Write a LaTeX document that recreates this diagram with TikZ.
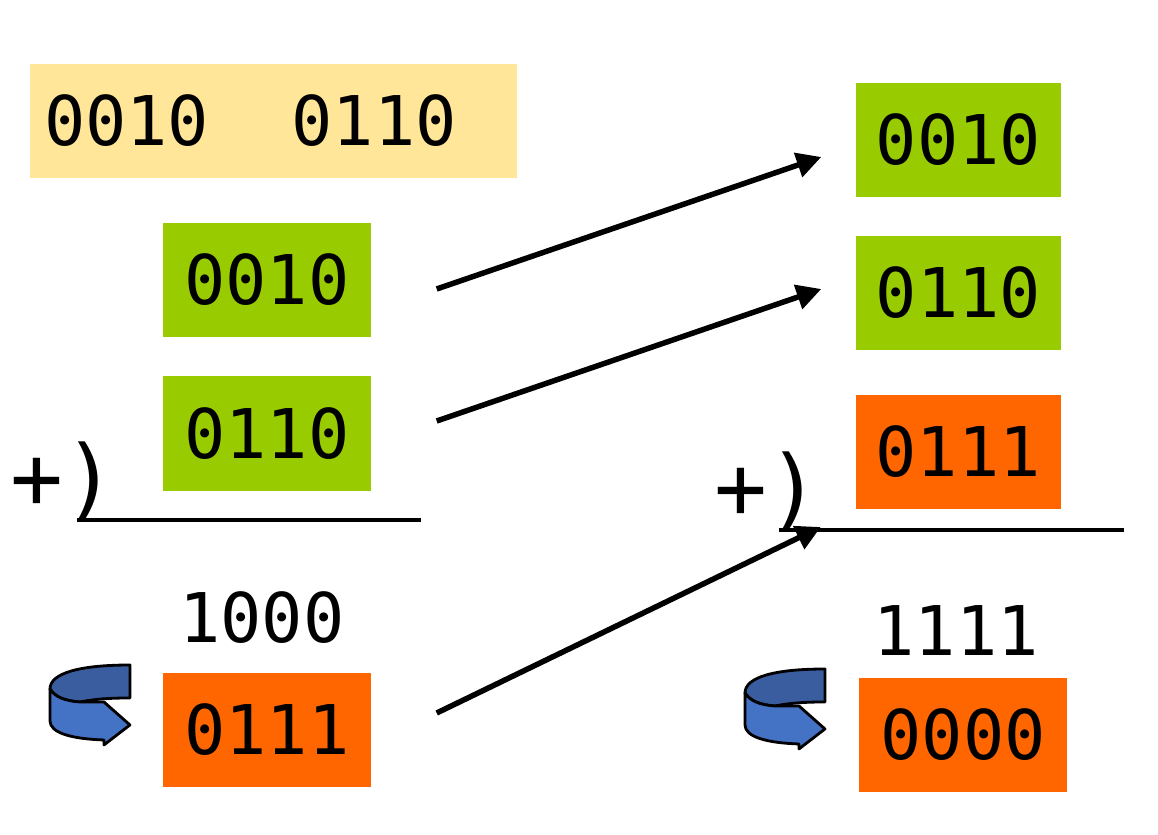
\documentclass[tikz,border=0pt]{standalone}
\usepackage{fontspec}
\setmonofont{DejaVu Sans Mono}
\usepackage{tikz}
\usepackage{xcolor}
\usetikzlibrary{arrows.meta}
\usetikzlibrary{positioning}

\definecolor{bitgreen}{HTML}{99CC00}
\definecolor{bitorange}{HTML}{FF6600}
\definecolor{bityellow}{HTML}{FFE699}
\definecolor{turnfront}{HTML}{4472C4}
\definecolor{turnback}{HTML}{3A5DA0}

\tikzset{
	word/.style={minimum width=2.08cm, minimum height=1.14cm, inner sep=0pt, font=\ttfamily\fontsize{19.5}{23}\selectfont},
	plain/.style={inner sep=0pt, font=\ttfamily\fontsize{19.5}{23}\selectfont},
	plus/.style={inner sep=0pt, anchor=base west, font=\ttfamily\fontsize{25}{30}\selectfont},
	turnarrow/.pic={
		\begin{scope}[x=0.01cm, y=-0.01cm, line width=0.8pt, line join=round]
		\filldraw[fill=turnback] (80,0) .. controls (30,0) and (0,8) .. (0,24) .. controls (5,32) and (15,36) .. (30,37) .. controls (45,34) and (60,33) .. (80,33) -- cycle;
		\filldraw[fill=turnfront] (0,24) .. controls (5,32) and (15,36) .. (30,37) -- (54,37) -- (80,60) -- (54,80) -- (54,75) .. controls (22,74) and (0,68) .. (0,56) -- cycle;
		\end{scope}
	}
}

\begin{document}
\begin{tikzpicture}
				\useasboundingbox (0,0) rectangle (11.58,8.34);
				\node[word, fill=bityellow, minimum width=4.87cm, text width=4.59cm, align=left] (pair) at (2.735, 7.13) {0010\phantom{00}0110};
				\node[word, fill=bitgreen] (a1) at (2.67, 5.54) {0010};
				\node[word, fill=bitgreen] (a2) at (2.67, 4.005) {0110};
				\node[plus] (aplus) at (0.10, 3.26) {+)};
				\node[plain] (asum) at (2.62, 2.16) {1000};
				\node[word, fill=bitorange] (acarry) at (2.67, 1.04) {0111};
				\node[word, fill=bitgreen, minimum width=2.05cm] (b1) at (9.585, 6.94) {0010};
				\node[word, fill=bitgreen, minimum width=2.05cm] (b2) at (9.585, 5.41) {0110};
				\node[word, fill=bitorange, minimum width=2.05cm] (bcarry) at (9.58, 3.82) {0111};
				\node[plus] (bplus) at (7.14, 3.16) {+)};
				\node[plain] (bsum) at (9.56, 2.03) {1111};
				\node[word, fill=bitorange] (bres) at (9.63, 0.99) {0000};
				\draw[line width=1.1pt] (0.77, 3.14) -- (4.21, 3.14);
				\draw[line width=1.1pt] (7.79, 3.04) -- (11.24, 3.04);
				\pic at (0.50, 1.69) {turnarrow};
				\pic at (7.45, 1.65) {turnarrow};
				\draw[-{Triangle[length=7pt, width=7pt]}, line width={0.55mm}] ([xshift=0.65cm, yshift=-0.09cm]a1.east) to ([xshift=-0.34cm, yshift=-0.17cm]b1.west);
				\draw[-{Triangle[length=7pt, width=7pt]}, line width={0.55mm}] ([xshift=0.65cm, yshift=0.125cm]a2.east) to ([xshift=-0.34cm, yshift=0.04cm]b2.west);
				\draw[-{Triangle[length=7pt, width=7pt]}, line width={0.55mm}] ([xshift=0.65cm, yshift=0.17cm]acarry.east) to ([xshift=-0.34cm, yshift=-0.75cm]bcarry.west);
			\end{tikzpicture}
\end{document}
